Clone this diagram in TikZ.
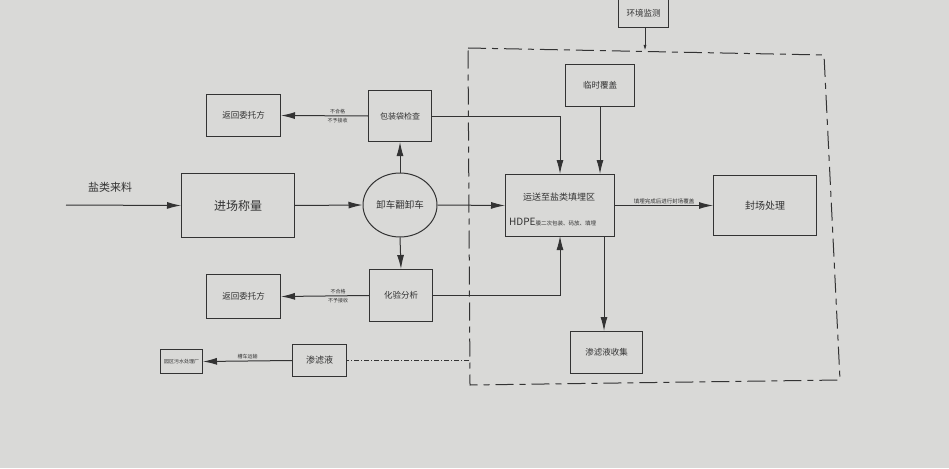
\documentclass[tikz,border=0pt]{standalone}
\usepackage{fontspec}
\setmainfont{Noto Sans CJK SC}
\usetikzlibrary{arrows.meta,shapes.geometric}
\definecolor{paper}{HTML}{D9D9D7}
\definecolor{ink}{HTML}{333333}
\tikzset{
  box/.style={draw=ink, line width=1pt, inner sep=0pt, anchor=north west, align=center, text=ink},
  flow/.style={draw=ink, line width=1pt, -{Latex[length=14pt,width=7pt]}},
  plain/.style={draw=ink, line width=1pt},
  lbl/.style={text=ink, inner sep=0.5pt, font=\fontsize{5}{5.5}\selectfont},
}
\begin{document}
\begin{tikzpicture}[x=1pt,y=-1pt]
\useasboundingbox (0,0) rectangle (949,468);
\fill[paper] (0,0) rectangle (949,468);
% dashed region
\draw[ink, line width=1pt, dash pattern=on 18pt off 6pt on 6pt off 6pt] (468,48) -- (824,55) -- (840,380) -- (470,385) -- cycle;
% boxes
\node[box, minimum width=113pt, minimum height=64pt, font=\fontsize{12}{12}\selectfont] (jc) at (181,173) {进场称量};
\node[draw=ink, line width=1pt, ellipse, minimum width=74pt, minimum height=64pt, inner sep=0pt, text=ink, font=\fontsize{9.5}{10}\selectfont] (xc) at (400,205) {卸车翻卸车};
\node[box, minimum width=109pt, minimum height=62pt] (tm) at (505,174) {};
\node[text=ink, font=\fontsize{9}{9}\selectfont, inner sep=0pt] (tmt) at (559,197) {运送至盐类填埋区};
\node[text=ink, inner sep=0pt, anchor=west] (tmh) at (509,222) {\fontsize{10}{10}\selectfont HDPE\fontsize{5.5}{6}\selectfont 膜二次包装、码放、填埋};
\node[box, minimum width=103pt, minimum height=60pt, font=\fontsize{10}{10}\selectfont] (fc) at (713,175) {封场处理};
\node[box, minimum width=63pt, minimum height=51pt, font=\fontsize{8}{8}\selectfont] (bz) at (368,90) {包装袋检查};
\node[box, minimum width=74pt, minimum height=42pt, font=\fontsize{8.5}{8.5}\selectfont] (ft) at (206,94) {返回委托方};
\node[box, minimum width=63pt, minimum height=52pt, font=\fontsize{8.5}{8.5}\selectfont] (hy) at (369,269) {化验分析};
\node[box, minimum width=74pt, minimum height=44pt, font=\fontsize{8.5}{8.5}\selectfont] (fb) at (206,274) {返回委托方};
\node[box, minimum width=69pt, minimum height=42pt, font=\fontsize{8.5}{8.5}\selectfont] (ls) at (565,64) {临时覆盖};
\node[box, minimum width=72pt, minimum height=42pt, font=\fontsize{8.5}{8.5}\selectfont] (sj) at (570,331) {渗滤液收集};
\node[box, minimum width=54pt, minimum height=32pt, font=\fontsize{9}{9}\selectfont] (sl) at (292,344) {渗滤液};
\node[box, minimum width=42pt, minimum height=24pt, font=\fontsize{5}{5}\selectfont] (ws) at (160,349) {园区污水处理厂};
\node[box, minimum width=50pt, minimum height=28pt, font=\fontsize{8.5}{8.5}\selectfont] (hj) at (618,-1) {环境监测};
% input
\coordinate (in) at (66,205);
\node[text=ink, font=\fontsize{11}{11}\selectfont, inner sep=0pt] (yl) at (110,187) {盐类来料};
\draw[flow] (in) -- (jc.west);
\draw[flow] (jc.east) -- (xc.west);
\draw[flow] (xc.east) -- (tm.west);
\draw[flow] (tm.east) -- node[lbl, above=1pt, font=\fontsize{5.5}{6}\selectfont]{填埋完成后进行封场覆盖} (fc.west);
\draw[flow] (xc.north) -- (bz.south);
\draw[flow] (xc.south) -- (hy.north);
\draw[flow] (bz.west) -- node[lbl, pos=0.35, above=1pt]{不合格} node[lbl, pos=0.35, below=1pt]{不予接收} (ft.east);
\draw[flow] (hy.west) -- node[lbl, pos=0.35, above=1pt]{不合格} node[lbl, pos=0.35, below=1pt]{不予接收} (fb.east);
\coordinate (tmn1) at (560,174);
\coordinate (tms1) at (560,236);
\draw[flow] (bz.east) -| (tmn1);
\draw[flow] (hy.east) -| (tms1);
\draw[flow] (ls.south) -- (ls.south |- tm.north);
\coordinate (tms2) at (604,236);
\draw[flow] (tms2) -- (sj.north -| tms2);
\coordinate (dl) at (469,360);
\draw[ink, line width=1pt, dash pattern=on 5pt off 2pt on 1pt off 2pt] (dl) -- (sl.east |- dl);
\draw[flow] (sl.west) -- node[lbl, above=1pt]{槽车运输} (ws.east);
\coordinate (hjd) at (645,51);
\draw[plain, -{Latex[length=6pt,width=3pt]}] (hj.south -| hjd) -- (hjd);
\end{tikzpicture}
\end{document}
